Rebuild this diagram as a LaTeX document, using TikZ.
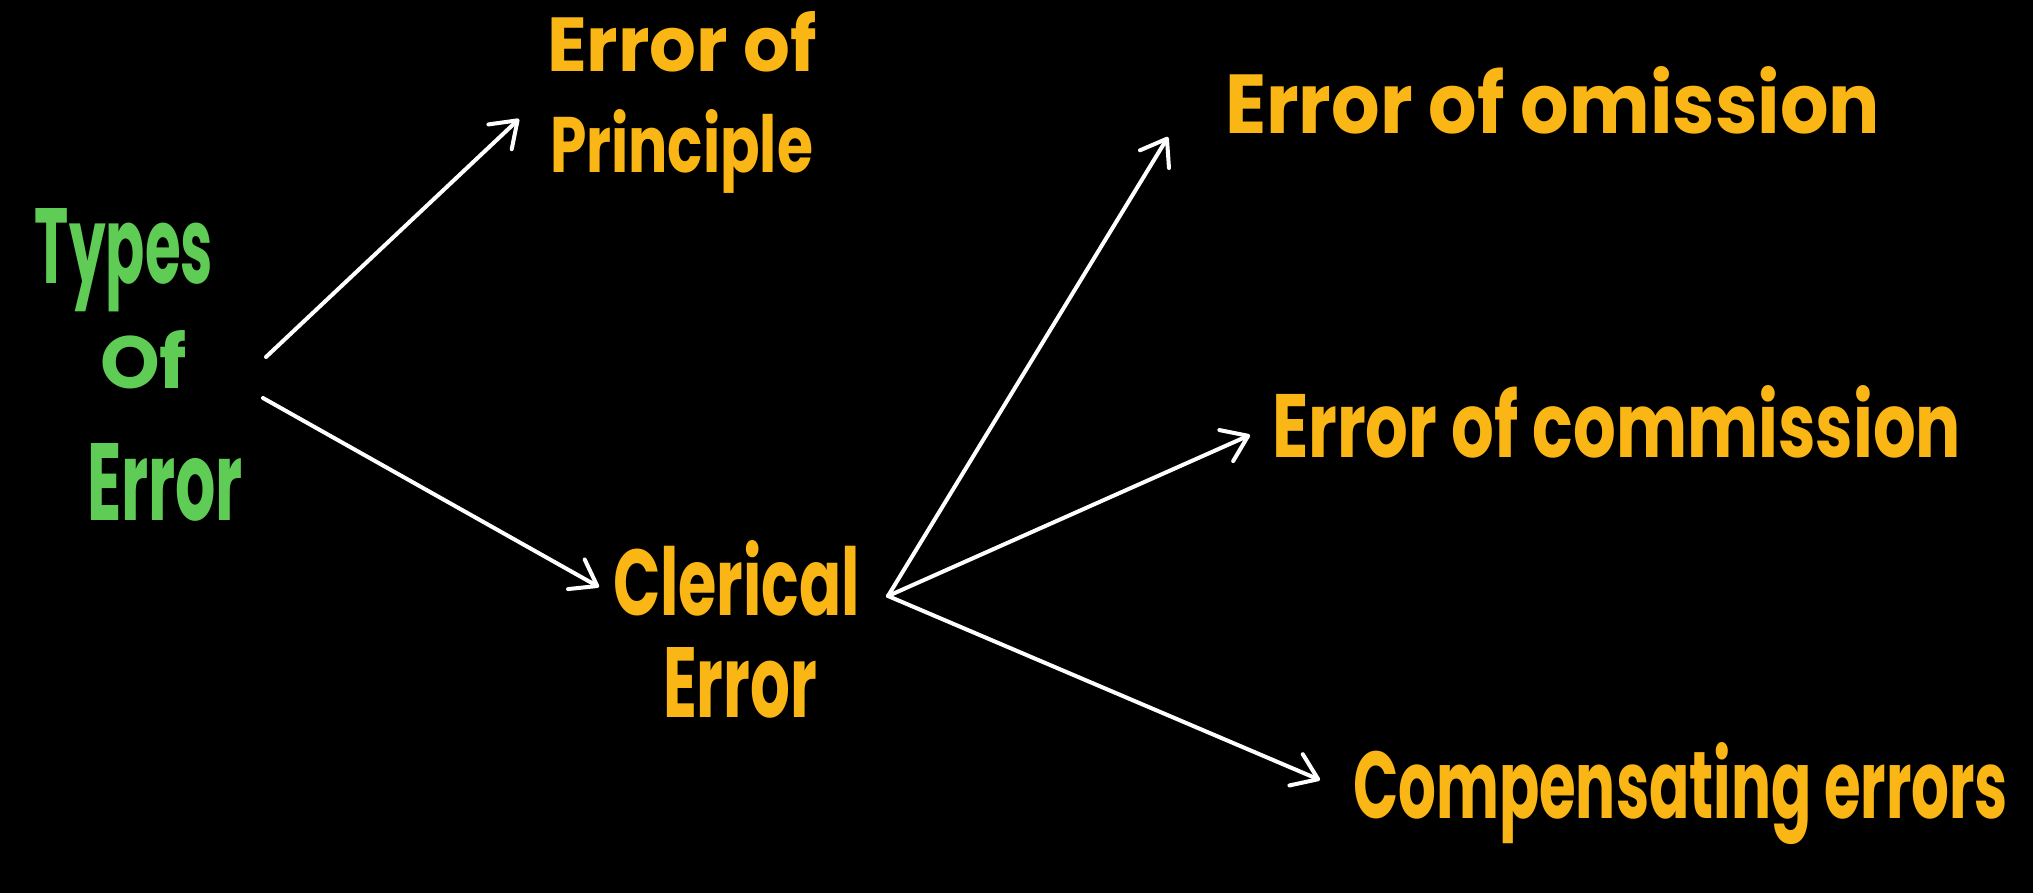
\documentclass[tikz,border=0pt]{standalone}
\usepackage{fontspec}
\setmainfont{Poppins}
\usetikzlibrary{arrows.meta}
\definecolor{handorange}{RGB}{250,182,20}
\definecolor{handgreen}{RGB}{95,205,85}
\newcommand{\fitwh}[3]{\resizebox{#1}{#2}{#3}}
\begin{document}
\begin{tikzpicture}[x=0.5pt,y=-0.5pt,
  lab/.style={anchor=base west, inner sep=0pt, outer sep=0pt, text=handorange, align=left},
  arr/.style={draw=white, line width=2pt, line cap=round, line join=round,
    -{Straight Barb[length=12pt,width=17pt,line cap=round,line join=round]}}]
\fill[black] (0,0) rectangle (2033,893);
\useasboundingbox (0,0) rectangle (2033,893);

\node[lab, text=handgreen, font=\bfseries\fontsize{40}{52.5}\selectfont] (types) at (35,520)
  {\fitwh{89pt}{37.5pt}{Types}\\ \hspace*{32.5pt}\fitwh{43.5pt}{29pt}{Of}\\[13.5pt] \hspace*{26pt}\fitwh{78pt}{38.5pt}{Error}};

\node[lab, font=\bfseries\fontsize{40}{50.5}\selectfont] (principle) at (547,173)
  {\fitwh{135pt}{30pt}{Error of}\\ \hspace*{1.5pt}\fitwh{131.5pt}{31.5pt}{Principle}};

\node[lab, font=\bfseries\fontsize{40}{51}\selectfont] (clerical) at (613,717)
  {\fitwh{123.5pt}{37.5pt}{Clerical}\\ \hspace*{25pt}\fitwh{77pt}{35pt}{Error}};

\node[lab, font=\bfseries\fontsize{40}{48}\selectfont] (omission) at (1225,134)
  {\fitwh{327.5pt}{33.5pt}{Error of omission}};
\node[lab, font=\bfseries\fontsize{40}{48}\selectfont] (commission) at (1272,457)
  {\fitwh{344.5pt}{36pt}{Error of commission}};
\node[lab, font=\bfseries\fontsize{40}{48}\selectfont] (compensating) at (1353,818)
  {\fitwh{327.5pt}{38pt}{Compensating errors}};

\draw[arr] ([shift={(231,-163)}]types.base west) -- ([shift={(-28,-54)}]principle.base west);
\draw[arr] ([shift={(228,-122)}]types.base west) -- ([shift={(-14,-130)}]clerical.base west);
\draw[arr] ([shift={(275,-121)}]clerical.base west) -- ([shift={(-57,3)}]omission.base west);
\draw[arr] ([shift={(275,-121)}]clerical.base west) -- ([shift={(-22,-22)}]commission.base west);
\draw[arr] ([shift={(275,-121)}]clerical.base west) -- ([shift={(-33,-38)}]compensating.base west);
\end{tikzpicture}
\end{document}
